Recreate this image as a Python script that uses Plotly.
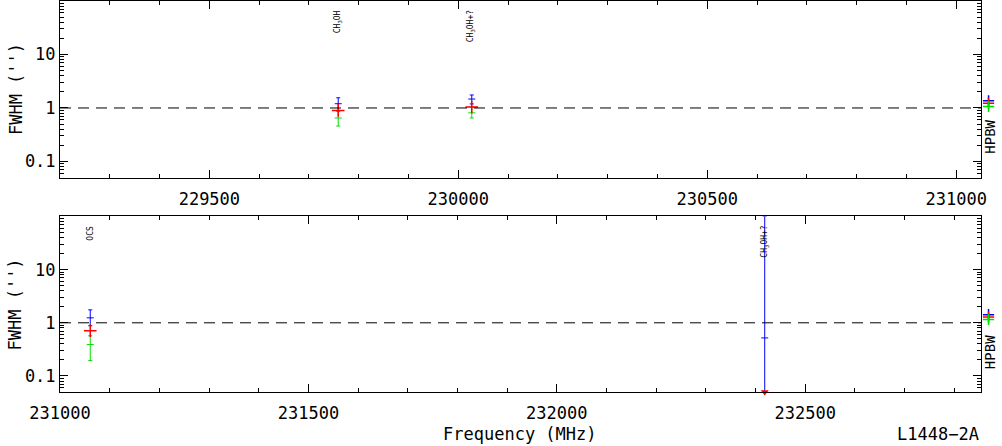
import math
import plotly.graph_objects as go

# ---------------- data ----------------
top_freq = [229758.8, 230027.0]
top_labels = ["CH<sub>3</sub>OH", "CH<sub>3</sub>OH+?"]
top_blue = [1.20, 1.47]
top_blue_hi = [1.55, 1.75]
top_blue_lo = [0.88, 1.19]
top_red = [0.90, 1.04]
top_green = [0.65, 0.81]
top_green_hi = [0.88, 1.04]
top_green_lo = [0.46, 0.65]

bot_freq = [231060.9, 232418.5]
bot_labels = ["OCS", "CH<sub>3</sub>OH+?"]
bot_blue = [1.24, 0.52]
bot_blue_hi = [1.75, 100.0]
bot_blue_lo = [0.88, 0.05]
bot_red = [0.71, None]
bot_red_limit_freq = [232418.5]
bot_red_limit = [0.05]
bot_green_freq = [231060.9]
bot_green = [0.39]
bot_green_hi = [0.57]
bot_green_lo = [0.195]

hpbw_top = {"blue": 1.36, "red": 1.22, "green": 1.07}
hpbw_bot = {"blue": 1.42, "red": 1.28, "green": 1.16}

top_range = [229200, 231050]
bot_range = [231000, 232854]
y_range = [0.05, 100]

BLUE, RED, GREEN = "#0000ff", "#ff0000", "#00e000"
FONT = "DejaVu Sans Mono"

fig = go.Figure()

def err_trace(x, y, hi, lo, color, xa, ya):
    return go.Scatter(
        x=x, y=y, mode="markers", xaxis=xa, yaxis=ya, showlegend=False,
        marker=dict(symbol="line-ew", size=5, color=color, line=dict(color=color, width=1)),
        error_y=dict(type="data", symmetric=False,
                     array=[h - v for h, v in zip(hi, y)],
                     arrayminus=[v - l for v, l in zip(y, lo)],
                     color=color, thickness=1, width=2),
        cliponaxis=False,
    )

def cross_trace(x, y, color, xa, ya, size=9):
    return go.Scatter(
        x=x, y=y, mode="markers", xaxis=xa, yaxis=ya, showlegend=False,
        marker=dict(symbol="cross-thin", size=size, color=color, line=dict(color=color, width=1.5)),
        cliponaxis=False,
    )

# top panel
fig.add_trace(err_trace(top_freq, top_green, top_green_hi, top_green_lo, GREEN, "x", "y"))
fig.add_trace(err_trace(top_freq, top_blue, top_blue_hi, top_blue_lo, BLUE, "x", "y"))
fig.add_trace(cross_trace(top_freq, top_red, RED, "x", "y"))

# bottom panel
fig.add_trace(err_trace(bot_green_freq, bot_green, bot_green_hi, bot_green_lo, GREEN, "x2", "y2"))
fig.add_trace(err_trace(bot_freq, bot_blue, bot_blue_hi, bot_blue_lo, BLUE, "x2", "y2"))
fig.add_trace(cross_trace(bot_freq, bot_red, RED, "x2", "y2"))
fig.add_trace(go.Scatter(
    x=bot_red_limit_freq, y=bot_red_limit, mode="markers", xaxis="x2", yaxis="y2",
    showlegend=False, cliponaxis=False,
    marker=dict(symbol="triangle-down", size=7, color=RED)))

# HPBW markers in right margin (own hidden axes)
for hp, ya in ((hpbw_top, "y3"), (hpbw_bot, "y4")):
    for key, col in (("blue", BLUE), ("red", RED), ("green", GREEN)):
        fig.add_trace(cross_trace([0.5], [hp[key]], col, "x3", ya, size=8))

# dashed line at 1
for xa, ya in (("x", "y"), ("x2", "y2")):
    fig.add_shape(type="line", xref=f"{xa} domain", yref=ya, x0=0, x1=1, y0=1, y1=1,
                  line=dict(color="black", width=1, dash="11px,7px"))

# line labels
for xa, freqs, labs in (("x", top_freq, top_labels), ("x2", bot_freq, bot_labels)):
    ya = "y" if xa == "x" else "y2"
    for f, lab in zip(freqs, labs):
        fig.add_annotation(x=f, y=1.86, xref=xa, yref=ya, text=lab, textangle=-90,
                           showarrow=False, yanchor="top", xanchor="center",
                           font=dict(family=FONT, size=8, color="black"))

W_PLOT = 942.0
xd = 927.0 / W_PLOT
top_dom = [215.0 / 392.0, 1.0]
bot_dom = [0.0, 176.0 / 392.0]
ylog = [math.log10(y_range[0]), math.log10(y_range[1])]

minor_y = [v * 10 ** e for e in (-2, -1, 0, 1) for v in range(2, 10) if 0.05 <= v * 10 ** e <= 100]

def xaxis_cfg(rng, anchor):
    return dict(domain=[0, xd], range=rng, anchor=anchor, showline=True, linecolor="black",
                linewidth=1, mirror="allticks", ticks="inside", ticklen=8, tickwidth=1,
                tickcolor="black", dtick=500, tick0=0, showgrid=False, zeroline=False,
                tickformat="d", ticklabelstandoff=6,
                tickfont=dict(family=FONT, size=17, color="black"),
                minor=dict(ticks="inside", ticklen=4, dtick=100, tick0=0, tickcolor="black",
                           showgrid=False))

def yaxis_cfg(dom, anchor):
    return dict(domain=dom, type="log", range=ylog,
                anchor=anchor, showline=True, linecolor="black", linewidth=1,
                mirror="allticks", ticks="inside", ticklen=8, tickwidth=1, tickcolor="black",
                tickvals=[0.1, 1, 10], ticktext=["0.1", "1", "10"], showgrid=False,
                zeroline=False, tickfont=dict(family=FONT, size=17, color="black"),
                minor=dict(ticks="inside", ticklen=4, tickvals=minor_y, tickcolor="black",
                           showgrid=False))

fig.update_layout(
    width=1002, height=446, autosize=False,
    margin=dict(l=60, r=0, t=0, b=54),
    paper_bgcolor="white", plot_bgcolor="white",
    xaxis=xaxis_cfg(top_range, "y"),
    yaxis=yaxis_cfg(top_dom, "x"),
    xaxis2=xaxis_cfg(bot_range, "y2"),
    yaxis2=yaxis_cfg(bot_dom, "x2"),
    xaxis3=dict(domain=[xd, 1.0], range=[0, 1], anchor="y3", visible=False),
    yaxis3=dict(domain=top_dom, type="log", range=ylog, anchor="x3", visible=False),
    yaxis4=dict(domain=bot_dom, type="log", range=ylog, anchor="x3", visible=False),
    showlegend=False,
)

# axis titles and labels
for yc in (1 - 88.0 / 392.0, 1 - 304.0 / 392.0):
    fig.add_annotation(x=(15 - 60) / 942.0, y=yc, xref="paper", yref="paper", text="FWHM ('')",
                       textangle=-90, showarrow=False, xanchor="center", yanchor="middle",
                       font=dict(family=FONT, size=17, color="black"))
    fig.add_annotation(x=(996 - 60) / 942.0, y=yc - 48.0 / 392.0, xref="paper", yref="paper",
                       text="HPBW", textangle=-90, showarrow=False, xanchor="center",
                       yanchor="middle", font=dict(family=FONT, size=14, color="black"))

fig.add_annotation(x=(523 - 60) / 942.0, y=-42.0 / 392.0, xref="paper", yref="paper",
                   text="Frequency (MHz)", showarrow=False, xanchor="center", yanchor="middle",
                   font=dict(family=FONT, size=17, color="black"))
fig.add_annotation(x=xd, y=-42.0 / 392.0, xref="paper", yref="paper",
                   text="L1448−2A", showarrow=False, xanchor="right", yanchor="middle",
                   font=dict(family=FONT, size=17, color="black"))

fig.write_html("out.html", config={"displayModeBar": False},
               post_script="document.body.style.margin='0';")
